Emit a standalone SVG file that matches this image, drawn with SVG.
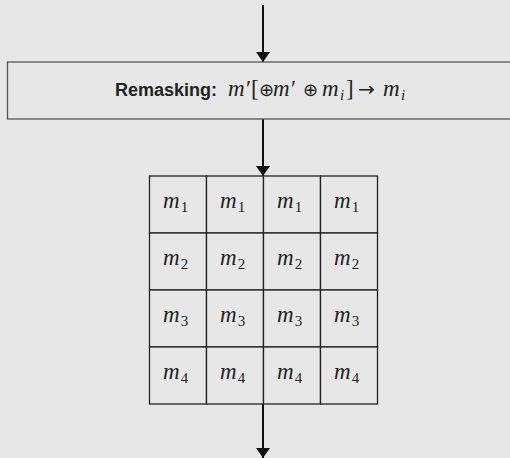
<svg xmlns="http://www.w3.org/2000/svg" width="510" height="458" viewBox="0 0 510 458">
<defs>
<style>
.bg{fill:#e7e7e7}
.box{fill:#e7e7e7;stroke:#555;stroke-width:1.3}
.cell{fill:#e7e7e7;stroke:#222;stroke-width:1.3}
.edge{stroke:#111;stroke-width:2;fill:none}
.lbl{font-family:"Liberation Sans",Arial,sans-serif;font-weight:bold;font-size:18px;fill:#222}
.math{font-family:"Liberation Serif","DejaVu Serif",serif;font-style:italic;font-size:23px;fill:#222}
.sub{font-size:15px}
.up{font-style:normal}
.op{font-family:"DejaVu Sans",sans-serif;font-style:normal;font-size:18px}
.arr{font-family:"DejaVu Sans",sans-serif;font-style:normal;font-size:20px}
</style>
<marker id="ah" markerWidth="10" markerHeight="14" refX="10" refY="7" orient="auto" markerUnits="userSpaceOnUse" viewBox="0 0 10 14">
<path d="M0,0 L10,7 L0,14 Z" fill="#111"/>
</marker>
</defs>
<rect class="bg" x="0" y="0" width="510" height="458"/>
<g id="connectors">
<line class="edge" x1="263" y1="5" x2="263" y2="62" marker-end="url(#ah)"/>
<line class="edge" x1="263" y1="119" x2="263" y2="176" marker-end="url(#ah)"/>
<line class="edge" x1="263" y1="404" x2="263" y2="458" marker-end="url(#ah)"/>
</g>
<g id="remasking">
<rect class="box" x="7.5" y="62" width="510" height="57"/>
<text x="115" y="96" class="lbl">Remasking:</text>
<text y="96" class="math"><tspan x="228">m</tspan><tspan class="up" x="246">′[</tspan><tspan class="op" x="259">⊕</tspan><tspan x="273">m</tspan><tspan class="up" x="291">′</tspan><tspan class="op" x="303">⊕</tspan><tspan x="322">m</tspan><tspan class="sub" x="340" dy="4">i</tspan><tspan class="up" x="346" dy="-4">]</tspan><tspan class="arr" x="358">→</tspan><tspan x="383">m</tspan><tspan class="sub" x="401" dy="4">i</tspan></text>
</g>
<g id="grid">
<rect class="cell" x="149.5" y="176" width="57" height="57"/>
<rect class="cell" x="206.5" y="176" width="57" height="57"/>
<rect class="cell" x="263.5" y="176" width="57" height="57"/>
<rect class="cell" x="320.5" y="176" width="57" height="57"/>
<rect class="cell" x="149.5" y="233" width="57" height="57"/>
<rect class="cell" x="206.5" y="233" width="57" height="57"/>
<rect class="cell" x="263.5" y="233" width="57" height="57"/>
<rect class="cell" x="320.5" y="233" width="57" height="57"/>
<rect class="cell" x="149.5" y="290" width="57" height="57"/>
<rect class="cell" x="206.5" y="290" width="57" height="57"/>
<rect class="cell" x="263.5" y="290" width="57" height="57"/>
<rect class="cell" x="320.5" y="290" width="57" height="57"/>
<rect class="cell" x="149.5" y="347" width="57" height="57"/>
<rect class="cell" x="206.5" y="347" width="57" height="57"/>
<rect class="cell" x="263.5" y="347" width="57" height="57"/>
<rect class="cell" x="320.5" y="347" width="57" height="57"/>
</g>
<g id="cells-text" class="math">
<text x="163" y="208">m<tspan class="sub up" dx="1" dy="4">1</tspan></text>
<text x="220" y="208">m<tspan class="sub up" dx="1" dy="4">1</tspan></text>
<text x="277" y="208">m<tspan class="sub up" dx="1" dy="4">1</tspan></text>
<text x="334" y="208">m<tspan class="sub up" dx="1" dy="4">1</tspan></text>
<text x="163" y="265">m<tspan class="sub up" dx="1" dy="4">2</tspan></text>
<text x="220" y="265">m<tspan class="sub up" dx="1" dy="4">2</tspan></text>
<text x="277" y="265">m<tspan class="sub up" dx="1" dy="4">2</tspan></text>
<text x="334" y="265">m<tspan class="sub up" dx="1" dy="4">2</tspan></text>
<text x="163" y="322">m<tspan class="sub up" dx="1" dy="4">3</tspan></text>
<text x="220" y="322">m<tspan class="sub up" dx="1" dy="4">3</tspan></text>
<text x="277" y="322">m<tspan class="sub up" dx="1" dy="4">3</tspan></text>
<text x="334" y="322">m<tspan class="sub up" dx="1" dy="4">3</tspan></text>
<text x="163" y="379">m<tspan class="sub up" dx="1" dy="4">4</tspan></text>
<text x="220" y="379">m<tspan class="sub up" dx="1" dy="4">4</tspan></text>
<text x="277" y="379">m<tspan class="sub up" dx="1" dy="4">4</tspan></text>
<text x="334" y="379">m<tspan class="sub up" dx="1" dy="4">4</tspan></text>
</g>
</svg>
